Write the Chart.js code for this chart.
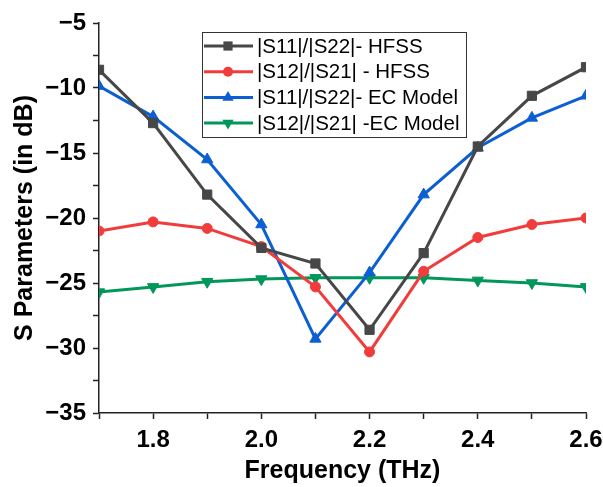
<!DOCTYPE html>
<html>
<head>
    <meta charset="UTF-8">
    <title>S Parameters</title>
    <script src="https://cdn.jsdelivr.net/npm/chart.js"></script>
    <style>
        body { margin: 0; background: #fff; }
    </style>
</head>
<body>
    <canvas id="myChart" width="603" height="487"></canvas>
    <script>
        const freq = [1.7, 1.8, 1.9, 2.0, 2.1, 2.2, 2.3, 2.4, 2.5, 2.6];
        const s11Hfss = [-8.6, -12.7, -18.2, -22.3, -23.5, -28.6, -22.7, -14.5, -10.6, -8.4];
        const s12Hfss = [-21.0, -20.3, -20.8, -22.2, -25.3, -30.3, -24.1, -21.5, -20.5, -20.0];
        const s11Ec = [-9.85, -12.2, -15.5, -20.5, -29.3, -24.2, -18.2, -14.6, -12.3, -10.6];
        const s12Ec = [-25.7, -25.3, -24.9, -24.7, -24.6, -24.6, -24.6, -24.8, -25.0, -25.3];
        const seriesNames = ['|S11|/|S22|- HFSS', '|S12|/|S21| - HFSS', '|S11|/|S22|- EC Model', '|S12|/|S21| -EC Model'];

        const fontFamily = 'Arial, "Liberation Sans", sans-serif';
        const toXY = arr => arr.map((v, i) => ({ x: freq[i], y: v }));

        function makeSet(label, values, color, style, radius, rotation) {
            return {
                label: label,
                data: toXY(values),
                borderColor: color,
                backgroundColor: color,
                borderWidth: 3,
                pointStyle: style,
                pointRadius: radius,
                pointRotation: rotation,
                pointBorderWidth: 1,
                tension: 0
            };
        }

        function drawMarker(ctx, style, x, y, r, rotation) {
            ctx.beginPath();
            if (style === 'rect') {
                const s = r * Math.SQRT1_2;
                ctx.rect(x - s, y - s, 2 * s, 2 * s);
            } else if (style === 'circle') {
                ctx.arc(x, y, r, 0, Math.PI * 2);
            } else {
                const a = rotation ? Math.PI : 0;
                for (let k = 0; k < 3; k++) {
                    const ang = a + k * 2 * Math.PI / 3;
                    const px = x + Math.sin(ang) * r;
                    const py = y - Math.cos(ang) * r;
                    if (k === 0) ctx.moveTo(px, py); else ctx.lineTo(px, py);
                }
                ctx.closePath();
            }
            ctx.fill();
        }

        // legend box inside the plot, line + marker like the original
        const boxLegend = {
            id: 'boxLegend',
            afterDatasetsDraw(chart) {
                const ctx = chart.ctx;
                const area = chart.chartArea;
                const left = area.left + 103, top = area.top + 9;
                const w = 264, h = 105;
                ctx.save();
                ctx.fillStyle = '#fff';
                ctx.fillRect(left, top, w, h);
                ctx.strokeStyle = '#333';
                ctx.lineWidth = 1;
                ctx.strokeRect(left + 0.5, top + 0.5, w, h);
                ctx.font = '20.5px ' + fontFamily;
                ctx.textBaseline = 'middle';
                chart.data.datasets.forEach((ds, i) => {
                    const y = top + 14 + i * 25.7;
                    ctx.strokeStyle = ds.borderColor;
                    ctx.lineWidth = 3;
                    ctx.beginPath();
                    ctx.moveTo(left + 2, y);
                    ctx.lineTo(left + 51, y);
                    ctx.stroke();
                    ctx.fillStyle = ds.borderColor;
                    drawMarker(ctx, ds.pointStyle, left + 26, y, ds.pointRadius, ds.pointRotation);
                    ctx.fillStyle = '#000';
                    ctx.fillText(ds.label, left + 55, y + 1);
                });
                ctx.restore();
            }
        };

        const ctx = document.getElementById('myChart').getContext('2d');
        const chart = new Chart(ctx, {
            type: 'line',
            data: {
                datasets: [
                    makeSet(seriesNames[0], s11Hfss, '#474747', 'rect', 6.5, 0),
                    makeSet(seriesNames[1], s12Hfss, '#f23c3c', 'circle', 5, 0),
                    makeSet(seriesNames[2], s11Ec, '#0c5fd3', 'triangle', 6.5, 0),
                    makeSet(seriesNames[3], s12Ec, '#01975a', 'triangle', 6.5, 180)
                ]
            },
            options: {
                responsive: false,
                animation: false,
                layout: { padding: { left: 10, right: 17, top: 23, bottom: 0 } },
                scales: {
                    x: {
                        type: 'linear',
                        min: 1.7,
                        max: 2.6,
                        afterFit: s => { s.height = 74; s.paddingRight = 0; s.paddingLeft = 0; },
                        grid: { drawOnChartArea: false, tickLength: 6, tickColor: '#222', tickWidth: 1.5 },
                        border: { color: '#222', width: 1.5 },
                        ticks: {
                            stepSize: 0.1,
                            autoSkip: false,
                            maxRotation: 0,
                            padding: 7,
                            color: '#000',
                            font: { family: fontFamily, size: 24, weight: 'bold' },
                            callback: function(value) {
                                const v = Math.round(value * 10);
                                return v % 2 === 0 ? (v / 10).toFixed(1) : '';
                            }
                        },
                        title: {
                            display: true,
                            text: 'Frequency (THz)',
                            color: '#000',
                            padding: { top: 0, bottom: 1 },
                            font: { family: fontFamily, size: 25, weight: 'bold' }
                        }
                    },
                    y: {
                        min: -35,
                        max: -5,
                        afterFit: s => { s.width = 89; s.paddingTop = 0; s.paddingBottom = 0; },
                        grid: { drawOnChartArea: false, tickLength: 6, tickColor: '#222', tickWidth: 1.5 },
                        border: { color: '#222', width: 1.5 },
                        ticks: {
                            stepSize: 2.5,
                            autoSkip: false,
                            padding: 7,
                            color: '#000',
                            font: { family: fontFamily, size: 24, weight: 'bold' },
                            callback: function(value) {
                                if (Math.round(value * 2) % 10 !== 0) return '';
                                return value < 0 ? '\u2212' + Math.abs(value) : String(value);
                            }
                        },
                        title: {
                            display: true,
                            text: 'S Parameters (in dB)',
                            color: '#000',
                            padding: { top: 0, bottom: 0 },
                            font: { family: fontFamily, size: 25, weight: 'bold' }
                        }
                    }
                },
                plugins: {
                    legend: { display: false },
                    tooltip: { enabled: false }
                }
            },
            plugins: [boxLegend]
        });
    </script>
</body>
</html>
